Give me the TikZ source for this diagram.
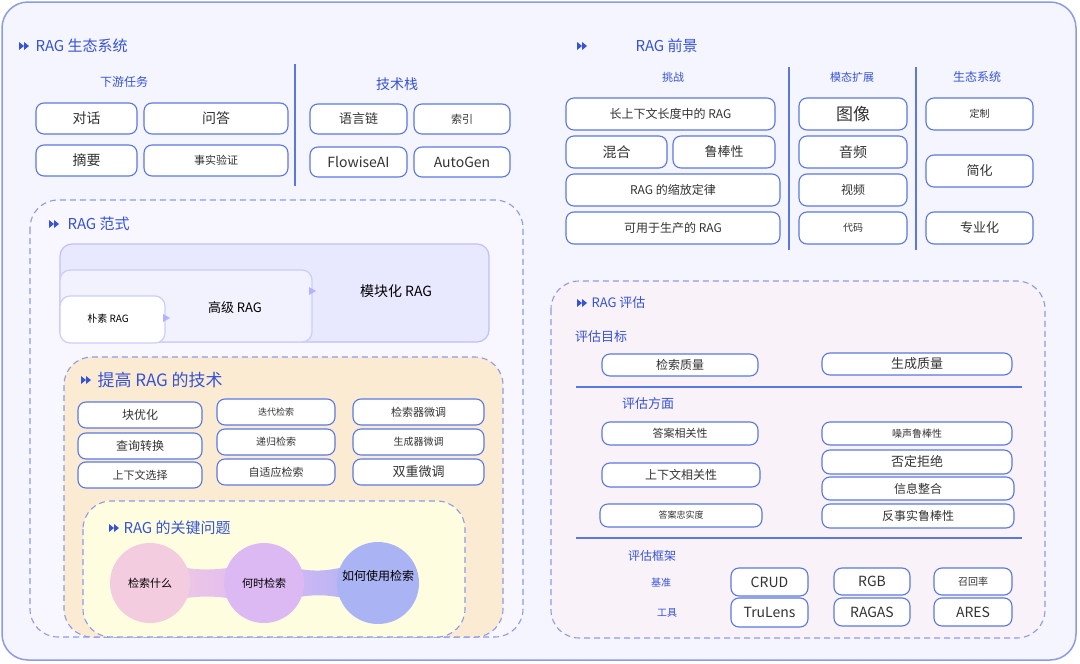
\documentclass[tikz,border=0pt]{standalone}
\usepackage{fontspec}
\setmainfont{Noto Sans CJK SC}
\begin{document}
\begin{tikzpicture}[x=1pt,y=-1pt,
  bx/.style={draw=bordB,line width=1.1pt,fill=white,rounded corners=8pt,inner sep=0pt,text=black!80},
  ttl/.style={text=titB,font=\fontsize{15}{17}\selectfont,anchor=west},
  sub/.style={text=titB,font=\fontsize{12}{14}\selectfont},
  dsh/.style={draw=dashB,dashed,dash pattern=on 6pt off 4pt,line width=1.1pt,rounded corners=28pt},
  sep/.style={draw=bordB,line width=1.3pt}]
\definecolor{bordB}{HTML}{5A78E0}
\definecolor{titB}{HTML}{3553D6}
\definecolor{dashB}{HTML}{8C9BE6}
\definecolor{peach}{HTML}{FCEBD3}
\definecolor{cpink}{HTML}{F3CCDF}
\definecolor{cviol}{HTML}{DDB9F4}
\definecolor{cblue}{HTML}{AAB3F3}
\newcommand\bx[7][12]{\node[bx,minimum width=#4-#2,minimum height=#5-#3,font=\fontsize{#1}{#1}\selectfont] (#7) at ({(#2+#4)/2},{(#3+#5)/2}) {#6};}
\newcommand\mk[2]{\fill[titB] (#1-5,#2-4) -- (#1,#2) -- (#1-5,#2+4) -- cycle; \fill[titB] (#1,#2-4) -- (#1+5,#2) -- (#1,#2+4) -- cycle;}
\useasboundingbox (0,0) rectangle (1080,664);
\fill[white] (0,0) rectangle (1080,664);
\draw[draw=dashB,line width=1.5pt,fill=blue!4!white,rounded corners=26pt] (2,2) rectangle (1076,660);
% ecosystem
\mk{24}{46}\node[ttl] (t1) at (32,46) {RAG 生态系统};
\node[sub] (s1) at (124,82) {下游任务};
\node[sub,font=\fontsize{14}{16}\selectfont] (s2) at (397,84) {技术栈};
\draw[sep] (295,64) -- (295,186);
\bx[14]{36}{103}{137}{134}{对话}{a1}
\bx[14]{144}{103}{288}{134}{问答}{a2}
\bx[14]{36}{145}{137}{176}{摘要}{a3}
\bx[11]{144}{145}{288}{176}{事实验证}{a4}
\bx[13]{310}{104}{407}{134}{语言链}{a5}
\bx[11]{414}{104}{510}{134}{索引}{a6}
\bx[14]{310}{147}{407}{177}{FlowiseAI}{a7}
\bx[14]{414}{147}{510}{177}{AutoGen}{a8}
% paradigm
\draw[dsh,fill=red!5!blue!3!white] (30,200) rectangle (523,637);
\mk{54}{224}\node[ttl] (t2) at (64,224) {RAG 范式};
\draw[draw=blue!25,line width=1.2pt,fill=blue!9!white,rounded corners=12pt] (60,244) rectangle (489,342);
\node[font=\fontsize{14}{16}\selectfont] (m3) at (396,291) {模块化 RAG};
\draw[draw=blue!20,line width=1.2pt,fill=blue!5!white,rounded corners=10pt] (60,270) rectangle (312,342);
\node[font=\fontsize{13}{15}\selectfont] (m2) at (235,308) {高级 RAG};
\draw[draw=blue!20,line width=1.2pt,fill=white,rounded corners=10pt] (60,296) rectangle (165,343);
\node[font=\fontsize{10}{12}\selectfont] (m1) at (108,319) {朴素 RAG};
\fill[blue!30] (163,314) -- (170,318) -- (163,322) -- cycle;
\fill[blue!30] (309,287) -- (316,291) -- (309,295) -- cycle;
\draw[dsh,fill=peach] (64,357) rectangle (503,637);
\mk{86}{380}\node[ttl,font=\fontsize{17}{19}\selectfont] (t3) at (94,380) {提高 RAG 的技术};
\bx[12]{78}{402}{202}{428}{块优化}{b1}
\bx[12]{78}{433}{202}{459}{查询转换}{b2}
\bx[11]{78}{462}{202}{488}{上下文选择}{b3}
\bx[9]{217}{399}{335}{425}{迭代检索}{b4}
\bx[10]{217}{429}{335}{455}{递归检索}{b5}
\bx[11]{217}{459}{335}{485}{自适应检索}{b6}
\bx[11]{353}{399}{484}{425}{检索器微调}{b7}
\bx[10]{353}{429}{484}{455}{生成器微调}{b8}
\bx[13]{353}{459}{484}{485}{双重微调}{b9}
\draw[dsh,fill=yellow!12!white] (83,501) rectangle (465,637);
\mk{114}{528}\node[ttl] (t4) at (120,528) {RAG 的关键问题};
\shade[left color=cpink,right color=cviol] (150,562) .. controls (207,572) .. (264,562) -- (264,604) .. controls (207,594) .. (150,604) -- cycle;
\shade[left color=cviol,right color=cblue] (264,562) .. controls (320,574) .. (378,558) -- (378,606) .. controls (320,592) .. (264,604) -- cycle;
\node[circle,fill=cpink,minimum size=80pt,inner sep=0pt,font=\fontsize{11}{12}\selectfont] (c1) at (150,583) {检索什么};
\node[circle,fill=cviol,minimum size=80pt,inner sep=0pt,font=\fontsize{11}{12}\selectfont] (c2) at (264,583) {何时检索};
\node[circle,fill=cblue,minimum size=82pt,inner sep=0pt] (c3) at (378,583) {};
\node[font=\fontsize{12}{13}\selectfont] (c3t) at (378,576) {如何使用检索};
% prospects
\mk{582}{46}\node[ttl] (t5) at (632,46) {RAG 前景};
\node[sub,font=\fontsize{11}{13}\selectfont] (p0) at (673,77) {挑战};
\node[sub,font=\fontsize{11}{13}\selectfont] (p1) at (852,77) {模态扩展};
\node[sub,font=\fontsize{12}{14}\selectfont] (p2) at (977,77) {生态系统};
\draw[sep] (789,67) -- (789,250);
\draw[sep] (916,67) -- (916,250);
\bx[12]{566}{98}{775}{130}{长上下文长度中的 RAG}{d1}
\bx[14]{566}{136}{667}{168}{混合}{d2}
\bx[13]{673}{136}{775}{168}{鲁棒性}{d3}
\bx[12]{566}{174}{780}{206}{RAG 的缩放定律}{d4}
\bx[12]{566}{212}{780}{244}{可用于生产的 RAG}{d5}
\bx[17]{799}{98}{907}{130}{图像}{e1}
\bx[14]{799}{136}{907}{168}{音频}{e2}
\bx[12]{799}{174}{907}{206}{视频}{e3}
\bx[10]{799}{212}{907}{244}{代码}{e4}
\bx[10]{926}{98}{1033}{130}{定制}{f1}
\bx[13]{926}{155}{1033}{187}{简化}{f2}
\bx[13]{926}{212}{1033}{244}{专业化}{f3}
% evaluation
\draw[dsh,fill=violet!5!white] (551,281) rectangle (1045,638);
\mk{582}{303}\node[ttl,font=\fontsize{13}{15}\selectfont] (t6) at (588,303) {RAG 评估};
\node[sub,font=\fontsize{13}{15}\selectfont] (g0) at (601,337) {评估目标};
\bx[12]{602}{354}{758}{376}{检索质量}{g1}
\bx[13]{822}{353}{1012}{375}{生成质量}{g2}
\draw[sep] (576,387) -- (1022,387);
\node[sub,font=\fontsize{13}{15}\selectfont] (h0) at (648,404) {评估方面};
\bx[11]{602}{422}{758}{445}{答案相关性}{h1}
\bx[12]{602}{463}{760}{487}{上下文相关性}{h2}
\bx[9]{600}{504}{762}{527}{答案忠实度}{h3}
\bx[10]{822}{422}{1012}{445}{噪声鲁棒性}{h4}
\bx[13]{822}{450}{1012}{474}{否定拒绝}{h5}
\bx[12]{822}{477}{1014}{500}{信息整合}{h6}
\bx[12]{822}{504}{1014}{528}{反事实鲁棒性}{h7}
\draw[sep] (576,538) -- (1022,538);
\node[sub,font=\fontsize{12}{14}\selectfont] (k0) at (652,556) {评估框架};
\node[sub,font=\fontsize{10}{12}\selectfont] (k1) at (661,583) {基准};
\node[sub,font=\fontsize{10}{12}\selectfont] (k2) at (667,613) {工具};
\bx[14]{731}{568}{808}{596}{CRUD}{k3}
\bx[14]{834}{568}{910}{595}{RGB}{k4}
\bx[10]{934}{568}{1012}{595}{召回率}{k5}
\bx[14]{731}{598}{808}{627}{TruLens}{k6}
\bx[14]{834}{598}{910}{626}{RAGAS}{k7}
\bx[14]{934}{598}{1012}{626}{ARES}{k8}
\end{tikzpicture}
\end{document}
